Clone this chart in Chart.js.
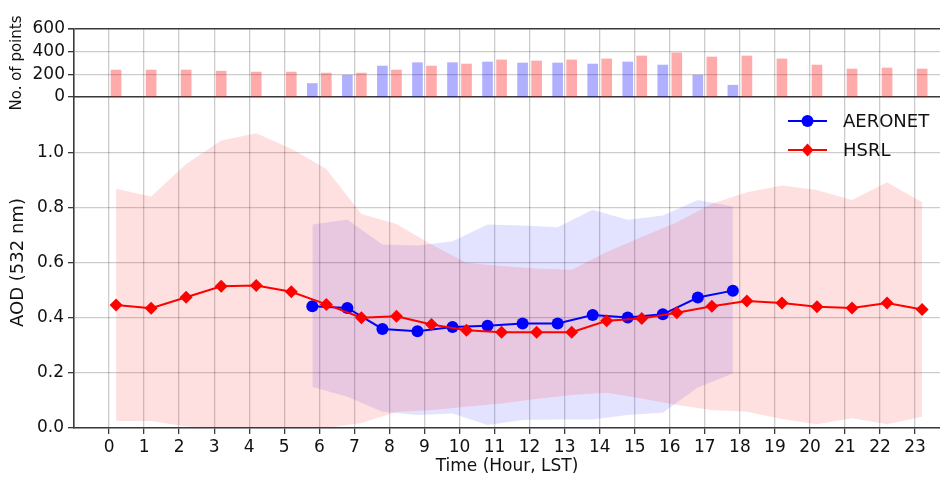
<!DOCTYPE html>
<html>
<head>
<meta charset="utf-8">
<script src="https://cdn.jsdelivr.net/npm/chart.js@4.4.1/dist/chart.umd.min.js"></script>
<style>
  html, body { margin: 0; padding: 0; background: #fff; }
  #wrap { position: relative; width: 940px; height: 478px; overflow: hidden; }
  #mainBox { position: absolute; left: 0; top: 97px; width: 940px; height: 381px; }
  #topBox { position: absolute; left: 0; top: 0; width: 940px; height: 130px; }
</style>
</head>
<body>
<div id="wrap">
  <div id="mainBox"><canvas id="aodChart"></canvas></div>
  <div id="topBox"><canvas id="countChart"></canvas></div>
</div>
<script>
// hours of day (LST)
const hours = [0, 1, 2, 3, 4, 5, 6, 7, 8, 9, 10, 11, 12, 13, 14, 15, 16, 17, 18, 19, 20, 21, 22, 23];
const aeronetHours = [6, 7, 8, 9, 10, 11, 12, 13, 14, 15, 16, 17, 18];

// number of points
const hsrlCount = [238, 238, 238, 228, 220, 220, 211, 211, 238, 273, 291, 327, 318, 327, 336, 362, 389, 353, 362, 336, 282, 247, 256, 247];
const aeronetCount = [119, 193, 273, 303, 303, 309, 300, 300, 291, 309, 282, 193, 104];

// AOD (532 nm) mean and spread
const hsrlAOD = [0.446, 0.434, 0.474, 0.514, 0.517, 0.494, 0.448, 0.400, 0.405, 0.375, 0.354, 0.347, 0.347, 0.347, 0.389, 0.397, 0.418, 0.441, 0.460, 0.453, 0.440, 0.435, 0.453, 0.430];
const hsrlUpper = [0.867, 0.839, 0.957, 1.042, 1.069, 1.012, 0.939, 0.776, 0.740, 0.665, 0.599, 0.587, 0.578, 0.574, 0.638, 0.692, 0.746, 0.813, 0.855, 0.879, 0.863, 0.827, 0.891, 0.818];
const hsrlLower = [0.025, 0.025, 0.005, 0, 0, 0, 0, 0.018, 0.058, 0.065, 0.077, 0.089, 0.105, 0.120, 0.128, 0.107, 0.083, 0.065, 0.059, 0.033, 0.014, 0.035, 0.014, 0.041];

const aeronetAOD = [0.441, 0.435, 0.359, 0.351, 0.366, 0.371, 0.379, 0.379, 0.410, 0.401, 0.412, 0.473, 0.498];
const aeronetUpper = [0.738, 0.756, 0.665, 0.662, 0.677, 0.738, 0.734, 0.728, 0.791, 0.755, 0.770, 0.827, 0.803];
const aeronetLower = [0.149, 0.113, 0.059, 0.047, 0.053, 0.011, 0.029, 0.031, 0.031, 0.047, 0.055, 0.147, 0.198];

const countTicks = [0, 200, 400, 600];
const aodTicks = [0, 0.2, 0.4, 0.6, 0.8, 1.0];

// side-by-side shift of the two instruments within each hour
const hsrlShift = 0.2;
const aeronetShift = -0.2;
const xMin = -1.0, xMax = 23.71;

const FONT = 'DejaVu Sans';
const GRID = 'rgba(0,0,0,0.2)';
const AXIS = '#3a3a3a';

const pts = (xs, shift, ys) => xs.map((h, i) => ({ x: h + shift, y: ys[i] }));

function fixWidth(w) {
    return function (scale) {
        scale.width = w;
        scale.paddingTop = 0;
        scale.paddingBottom = 0;
    };
}
function fixHeight(hgt) {
    return function (scale) {
        scale.height = hgt;
        scale.paddingLeft = 0;
        scale.paddingRight = 0;
    };
}
function setTicks(list) {
    return function (scale) {
        scale.ticks = list.map(v => ({ value: v }));
    };
}

// legend drawn inside the plot, upper right
const legendItems = [
    { text: 'AERONET', color: 'blue', marker: 'circle' },
    { text: 'HSRL', color: 'red', marker: 'diamond' }
];
const insideLegend = {
    id: 'insideLegend',
    afterDraw(chart) {
        const ctx = chart.ctx;
        const area = chart.chartArea;
        ctx.save();
        legendItems.forEach((item, i) => {
            const y = area.top + 24 + i * 29;
            const x0 = area.right - 152, x1 = area.right - 113, xm = (x0 + x1) / 2;
            ctx.strokeStyle = item.color;
            ctx.fillStyle = item.color;
            ctx.lineWidth = 2;
            ctx.beginPath();
            ctx.moveTo(x0, y);
            ctx.lineTo(x1, y);
            ctx.stroke();
            ctx.beginPath();
            if (item.marker === 'circle') {
                ctx.arc(xm, y, 6, 0, Math.PI * 2);
            } else {
                ctx.moveTo(xm, y - 6.5);
                ctx.lineTo(xm + 6, y);
                ctx.lineTo(xm, y + 6.5);
                ctx.lineTo(xm - 6, y);
                ctx.closePath();
            }
            ctx.fill();
            ctx.fillStyle = '#111';
            ctx.font = '18px "' + FONT + '"';
            ctx.textBaseline = 'middle';
            ctx.textAlign = 'left';
            ctx.fillText(item.text, area.right - 97, y + 1);
        });
        ctx.restore();
    }
};

Chart.defaults.font.family = FONT;
Chart.defaults.color = '#111';

new Chart(document.getElementById('aodChart'), {
    type: 'line',
    data: {
        datasets: [
            {
                label: 'HSRL',
                data: pts(hours, hsrlShift, hsrlAOD),
                borderColor: 'red',
                backgroundColor: 'red',
                borderWidth: 2,
                pointStyle: 'rectRot',
                pointRadius: 6.5,
                pointBorderWidth: 0,
                fill: false
            },
            {
                label: 'AERONET',
                data: pts(aeronetHours, aeronetShift, aeronetAOD),
                borderColor: 'blue',
                backgroundColor: 'blue',
                borderWidth: 2,
                pointStyle: 'circle',
                pointRadius: 6,
                pointBorderWidth: 0,
                fill: false
            },
            {
                label: 'HSRL upper',
                data: pts(hours, hsrlShift, hsrlUpper),
                borderWidth: 0,
                pointRadius: 0,
                backgroundColor: 'rgba(255,0,0,0.12)',
                fill: '+1'
            },
            {
                label: 'HSRL lower',
                data: pts(hours, hsrlShift, hsrlLower),
                borderWidth: 0,
                pointRadius: 0,
                fill: false
            },
            {
                label: 'AERONET upper',
                data: pts(aeronetHours, aeronetShift, aeronetUpper),
                borderWidth: 0,
                pointRadius: 0,
                backgroundColor: 'rgba(0,0,255,0.11)',
                fill: '+1'
            },
            {
                label: 'AERONET lower',
                data: pts(aeronetHours, aeronetShift, aeronetLower),
                borderWidth: 0,
                pointRadius: 0,
                fill: false
            }
        ]
    },
    options: {
        responsive: true,
        maintainAspectRatio: false,
        animation: false,
        layout: { padding: 0, autoPadding: false },
        plugins: { legend: { display: false }, tooltip: { enabled: false } },
        scales: {
            x: {
                type: 'linear',
                min: xMin,
                max: xMax,
                afterBuildTicks: setTicks(hours),
                afterFit: fixHeight(50),
                grid: { color: GRID, lineWidth: 1.3, tickColor: AXIS, tickLength: 6 },
                border: { color: AXIS, width: 1.6 },
                ticks: { font: { size: 17 }, padding: 3, maxRotation: 0, autoSkip: false },
                title: { display: true, text: 'Time (Hour, LST)', font: { size: 17 }, padding: { bottom: 1 } }
            },
            y: {
                min: 0,
                max: 1.2,
                afterBuildTicks: setTicks(aodTicks),
                afterFit: fixWidth(74),
                grid: { color: GRID, lineWidth: 1.3, tickColor: AXIS, tickLength: 6 },
                border: { color: AXIS, width: 1.6 },
                ticks: { font: { size: 17 }, padding: 4, autoSkip: false, callback: v => v.toFixed(1) },
                title: { display: true, text: 'AOD (532 nm)', font: { size: 18 }, padding: { top: 8 } }
            }
        }
    },
    plugins: [insideLegend]
});

new Chart(document.getElementById('countChart'), {
    type: 'bar',
    data: {
        datasets: [
            {
                label: 'AERONET',
                data: pts(aeronetHours, aeronetShift, aeronetCount),
                backgroundColor: 'rgba(0,0,255,0.31)',
                barThickness: 10
            },
            {
                label: 'HSRL',
                data: pts(hours, hsrlShift, hsrlCount),
                backgroundColor: 'rgba(255,0,0,0.33)',
                barThickness: 10
            }
        ]
    },
    options: {
        responsive: true,
        maintainAspectRatio: false,
        animation: false,
        grouped: false,
        layout: { padding: { top: 29, bottom: 33 }, autoPadding: false },
        plugins: { legend: { display: false }, tooltip: { enabled: false } },
        scales: {
            x: {
                type: 'linear',
                offset: false,
                min: xMin,
                max: xMax,
                afterBuildTicks: setTicks(hours),
                afterFit: fixHeight(0),
                grid: { color: GRID, lineWidth: 1.3, drawTicks: false, offset: false },
                border: { color: AXIS, width: 1.6 },
                ticks: { display: false }
            },
            y: {
                min: 0,
                max: 600,
                afterBuildTicks: setTicks(countTicks),
                afterFit: fixWidth(74),
                grid: {
                    color: c => (c.tick && c.tick.value === 600 ? AXIS : GRID),
                    lineWidth: c => (c.tick && c.tick.value === 600 ? 1.6 : 1.3),
                    tickColor: AXIS,
                    tickLength: 6
                },
                border: { color: AXIS, width: 1.6 },
                ticks: { font: { size: 17 }, padding: 3, autoSkip: false },
                title: { display: true, text: 'No. of points', font: { size: 15 }, padding: { top: 8 } }
            }
        }
    }
});
</script>
</body>
</html>
